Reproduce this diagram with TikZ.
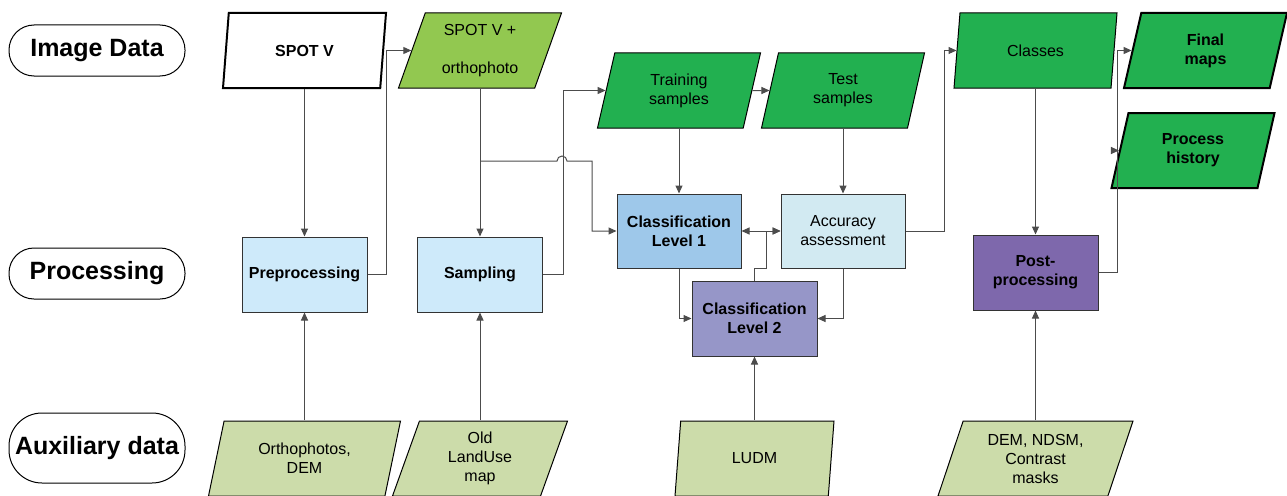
\documentclass[tikz,border=0pt]{standalone}
\usepackage{fontspec}
\setmainfont{Liberation Sans}
\usetikzlibrary{shapes.geometric,arrows.meta}
\definecolor{darkgreen}{RGB}{34,176,80}
\definecolor{lightgreen}{RGB}{146,200,80}
\definecolor{auxgreen}{RGB}{204,220,170}
\definecolor{procblue}{RGB}{206,234,250}
\definecolor{classblue}{RGB}{158,200,234}
\definecolor{accblue}{RGB}{210,234,242}
\definecolor{classviolet}{RGB}{150,150,200}
\definecolor{postviolet}{RGB}{126,104,172}
\tikzset{
  >={Triangle[length=8pt,width=7pt]},
  txt/.style={font=\fontsize{16}{19}\selectfont, align=center},
  bold/.style={font=\fontsize{16}{19}\selectfont\bfseries},
  data/.style={txt, trapezium, trapezium left angle=63, trapezium right angle=117,
    trapezium stretches body, minimum height=75, minimum width=#1, inner sep=0pt,
    draw=black, line width=1pt},
  data/.default=163,
  proc/.style={txt, draw=black!80, line width=1pt, minimum width=125, minimum height=75, inner sep=0pt},
  lane/.style={draw, line width=1pt, rounded corners=25, minimum width=176, minimum height=51,
    inner sep=0pt, font=\fontsize{25}{28}\selectfont\bfseries},
  link/.style={draw=black!70, line width=1pt, ->},
}
\begin{document}
\begin{tikzpicture}[x=1pt, y=-1pt]
\useasboundingbox (0,0) rectangle (1287,495);
\node[lane] (lImg) at (97,50.5) {Image Data};
\node[lane] (lProc) at (97,273.5) {Processing};
\node[lane, minimum height=70, rounded corners=33] (lAux) at (97,448) {Auxiliary data};

\node[data, fill=white, line width=2pt, bold] (spot) at (304.5,50.5) {SPOT V};
\node[data, fill=lightgreen] (ortho) at (480,50.5) {SPOT V +\\[19pt]orthophoto};
\node[data, fill=darkgreen] (train) at (679,90.5) {Training\\samples};
\node[data, fill=darkgreen] (test) at (843,90.5) {Test\\samples};
\node[data, fill=darkgreen] (classes) at (1035.5,50.5) {Classes};
\node[data, fill=darkgreen, line width=2pt, bold] (final) at (1205.5,50.5) {Final\\maps};
\node[data, fill=darkgreen, line width=2pt, bold] (hist) at (1193,150.5) {Process\\history};

\node[proc, fill=procblue, bold] (pre) at (304.5,274.5) {Preprocessing};
\node[proc, fill=procblue, bold] (samp) at (480,274.5) {Sampling};
\node[proc, fill=classblue, bold, minimum width=124, minimum height=74] (L1) at (679,231) {Classification\\Level 1};
\node[proc, fill=accblue, minimum width=124, minimum height=74] (acc) at (843,231) {Accuracy\\assessment};
\node[proc, fill=classviolet, bold] (L2) at (754.5,318.5) {Classification\\Level 2};
\node[proc, fill=postviolet, bold] (post) at (1035.5,272.5) {Post-\\processing};

\node[data=192, fill=auxgreen] (orth) at (304.5,458.5) {Orthophotos,\\DEM};
\node[data=175, fill=auxgreen] (oldlu) at (480,458.5) {Old\\LandUse\\map};
\node[data=159, fill=auxgreen] (ludm) at (754.5,458.5) {LUDM};
\node[data=195, fill=auxgreen] (dem) at (1035.5,458.5) {DEM, NDSM,\\Contrast\\masks};

\coordinate (split) at (480,161);
\draw[link] (spot) -- (pre);
\draw[link] (ortho) -- (samp);
\draw[link] (pre.east) -- ++(19,0) |- (ortho.west);
\draw[link] (samp.east) -- ++(20,0) |- (train.west);
\draw[link] (train) -- (test);
\draw[link] (train) -- (L1);
\draw[link] (test) -- (acc);
\draw[link] (split) -- (557,161) arc[start angle=180, end angle=0, radius=5pt] -- (592,161) |- (L1.west);
\draw[link, <->] (L1) -- (acc);
\draw[link] (L2.north) |- (766,268) |- (acc.west);
\draw[link] (L1) |- (L2);
\draw[link] (acc) |- (L2);
\draw[link] (acc.east) -- ++(39,0) |- (classes.west);
\draw[link] (classes) -- (post);
\draw[link] (post.east) -- ++(19,0) |- (final.west);
\draw[link] (post.east) -- ++(19,0) |- (hist.west);
\draw[link] (orth) -- (pre);
\draw[link] (oldlu) -- (samp);
\draw[link] (ludm) -- (L2);
\draw[link] (dem) -- (post);
\end{tikzpicture}
\end{document}
